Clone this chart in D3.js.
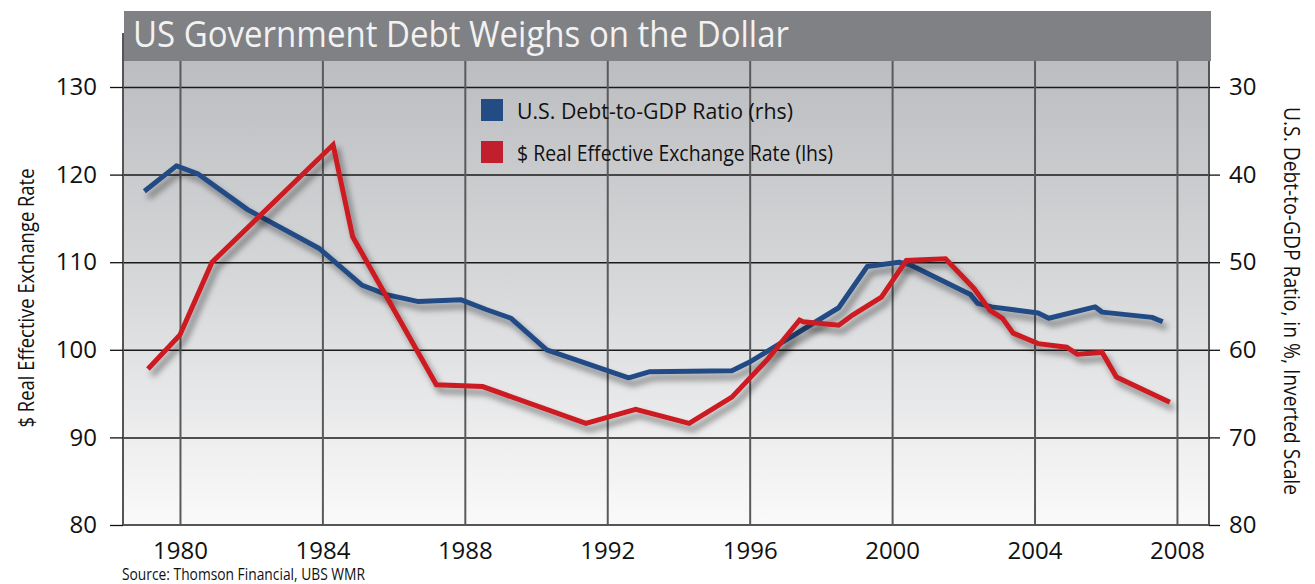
<!DOCTYPE html>
<html>
<head>
<meta charset="utf-8">
<script src="https://cdn.jsdelivr.net/npm/d3@7"></script>
<style>
  body { margin: 0; background: #fff; }
  svg { display: block; font-family: "Open Sans", "Noto Sans", sans-serif; }
</style>
</head>
<body>
<div id="chart"></div>
<script>
// values
var debtYears = [1979.0, 1979.9, 1980.5, 1981.9, 1983.9, 1985.1, 1985.8, 1986.7, 1987.9, 1988.6,
                 1989.3, 1990.3, 1992.6, 1993.2, 1995.5, 1996.0, 1998.5, 1999.3, 2000.2, 2000.5,
                 2002.2, 2002.4, 2002.8, 2004.1, 2004.4, 2005.7, 2005.9, 2007.3, 2007.6];
var debtRatio = [41.9, 39.0, 39.9, 44.0, 48.4, 52.6, 53.7, 54.5, 54.3, 55.4,
                 56.4, 60.0, 63.2, 62.5, 62.4, 61.4, 55.2, 50.5, 50.0, 50.3,
                 53.7, 54.7, 55.1, 55.8, 56.4, 55.1, 55.7, 56.3, 56.8];

var fxYears = [1979.1, 1980.0, 1980.9, 1984.3, 1984.85, 1987.2, 1988.5, 1991.4, 1992.8, 1994.3,
               1995.5, 1996.5, 1997.4, 1997.5, 1998.5, 1998.9, 1999.7, 2000.4, 2001.5, 2002.3,
               2002.75, 2003.1, 2003.4, 2004.1, 2004.9, 2005.2, 2005.9, 2006.3, 2007.8];
var fxRate = [97.8, 101.7, 110.0, 123.4, 112.9, 96.0, 95.8, 91.6, 93.2, 91.6,
              94.6, 98.9, 103.4, 103.2, 102.8, 104.0, 106.0, 110.2, 110.4, 107.0,
              104.5, 103.6, 101.9, 100.7, 100.3, 99.5, 99.7, 96.9, 94.0];

var yearTicks = [1980, 1984, 1988, 1992, 1996, 2000, 2004, 2008];
var leftTicks = [80, 90, 100, 110, 120, 130];
var rightTicks = [30, 40, 50, 60, 70, 80];

var seriesNames = ["U.S. Debt-to-GDP Ratio (rhs)", "$ Real Effective Exchange Rate (lhs)"];
var seriesColors = ["#234b85", "#cc1a24"];
var legendColors = ["#234b84", "#c11e2e"];

(function() {

  var stateMap = {
    width: 1315,
    height: 584,
    box: { left: 123, right: 1209, top: 61, bottom: 525, titleTop: 11 }
  },
  d3Map = {};

  var styleAxis = function(g) {
    g.select(".domain").remove();
    g.selectAll("line").attr("stroke", "#111").attr("stroke-width", 1.3);
    g.selectAll("text").attr("font-size", 24).attr("fill", "#111")
      .attr("font-family", "\"Open Sans\", \"Noto Sans\", sans-serif");
  };

  var initModule = function() {
    var b = stateMap.box;
    var svg = d3.select("#chart").append("svg")
      .attr("width", stateMap.width)
      .attr("height", stateMap.height);

    var defs = svg.append("defs");
    var grad = defs.append("linearGradient")
      .attr("id", "bg").attr("x1", 0).attr("y1", 0).attr("x2", 0).attr("y2", 1);
    grad.append("stop").attr("offset", "0%").attr("stop-color", "#bcbdc0");
    grad.append("stop").attr("offset", "50%").attr("stop-color", "#d8d9db");
    grad.append("stop").attr("offset", "100%").attr("stop-color", "#fafafa");

    defs.append("filter").attr("id", "shadow")
      .attr("x", "-5%").attr("y", "-10%").attr("width", "115%").attr("height", "130%")
      .append("feDropShadow")
      .attr("dx", 4).attr("dy", 6).attr("stdDeviation", 3)
      .attr("flood-color", "#000").attr("flood-opacity", 0.45);

    // scales
    d3Map.x = d3.scaleLinear().domain([1978.4, 2008.9]).range([b.left, b.right]);
    d3Map.yL = d3.scaleLinear().domain([80, 130]).range([b.bottom, 87]);
    d3Map.yR = d3.scaleLinear().domain([80, 30]).range([b.bottom, 87]);

    // title bar and plot background
    svg.append("rect")
      .attr("x", b.left + 1).attr("y", b.titleTop)
      .attr("width", b.right - b.left + 1).attr("height", b.top - b.titleTop)
      .attr("fill", "#808184");
    svg.append("text")
      .attr("x", 133).attr("y", 47)
      .attr("font-size", 37)
      .attr("fill", "#f2f2f2")
      .attr("textLength", 656).attr("lengthAdjust", "spacingAndGlyphs")
      .text("US Government Debt Weighs on the Dollar");

    svg.append("rect")
      .attr("x", b.left).attr("y", b.top)
      .attr("width", b.right - b.left).attr("height", b.bottom - b.top)
      .attr("fill", "url(#bg)");

    // grid
    var gGrid = svg.append("g").attr("class", "grid");
    gGrid.append("g")
      .attr("transform", "translate(" + b.left + ",0)")
      .call(d3.axisLeft(d3Map.yL).tickValues(leftTicks.slice(1)).tickSize(-(b.right - b.left)).tickFormat(""))
      .call(function(g) {
        g.select(".domain").remove();
        g.selectAll("line").attr("stroke", "#1a1a1a").attr("stroke-width", 1.5);
      });
    gGrid.append("g")
      .attr("transform", "translate(0," + b.bottom + ")")
      .call(d3.axisBottom(d3Map.x).tickValues(yearTicks).tickSize(-(b.bottom - b.top)).tickFormat(""))
      .call(function(g) {
        g.select(".domain").remove();
        g.selectAll("line").attr("stroke", "#5a5a5a").attr("stroke-width", 2);
      });

    // frame
    svg.append("line")
      .attr("x1", b.left).attr("x2", b.left).attr("y1", 33).attr("y2", b.bottom)
      .attr("stroke", "#555").attr("stroke-width", 2);
    svg.append("line")
      .attr("x1", b.right).attr("x2", b.right).attr("y1", b.top).attr("y2", b.bottom)
      .attr("stroke", "#555").attr("stroke-width", 2);
    svg.append("line")
      .attr("x1", b.left).attr("x2", b.right).attr("y1", b.bottom).attr("y2", b.bottom)
      .attr("stroke", "#555").attr("stroke-width", 2);

    // axes
    svg.append("g")
      .attr("transform", "translate(" + b.left + ",0)")
      .call(d3.axisLeft(d3Map.yL).tickValues(leftTicks).tickSize(13).tickPadding(13))
      .call(styleAxis);
    svg.append("g")
      .attr("transform", "translate(" + b.right + ",0)")
      .call(d3.axisRight(d3Map.yR).tickValues(rightTicks).tickSize(11).tickPadding(9))
      .call(styleAxis);
    svg.append("g")
      .attr("transform", "translate(0," + b.bottom + ")")
      .call(d3.axisBottom(d3Map.x).tickValues(yearTicks).tickSize(0).tickPadding(17).tickFormat(d3.format("d")))
      .call(styleAxis);

    // axis titles
    svg.append("text")
      .attr("transform", "translate(34,298) rotate(-90)")
      .attr("text-anchor", "middle")
      .attr("font-size", 22).attr("fill", "#111")
      .attr("textLength", 259).attr("lengthAdjust", "spacingAndGlyphs")
      .text("$ Real Effective Exchange Rate");
    svg.append("text")
      .attr("transform", "translate(1284,301) rotate(90)")
      .attr("text-anchor", "middle")
      .attr("font-size", 22).attr("fill", "#111")
      .attr("textLength", 388).attr("lengthAdjust", "spacingAndGlyphs")
      .text("U.S. Debt-to-GDP Ratio, in %, Inverted Scale");

    // lines
    var debtData = debtYears.map(function(yr, i) { return [yr, debtRatio[i]]; });
    var fxData = fxYears.map(function(yr, i) { return [yr, fxRate[i]]; });

    var debtLine = d3.line()
      .x(function(d) { return d3Map.x(d[0]); })
      .y(function(d) { return d3Map.yR(d[1]); });
    var fxLine = d3.line()
      .x(function(d) { return d3Map.x(d[0]); })
      .y(function(d) { return d3Map.yL(d[1]); });

    svg.append("path")
      .datum(debtData)
      .attr("d", debtLine)
      .attr("fill", "none")
      .attr("stroke", seriesColors[0])
      .attr("stroke-width", 5)
      .attr("stroke-linejoin", "round")
      .attr("filter", "url(#shadow)");
    svg.append("path")
      .datum(fxData)
      .attr("d", fxLine)
      .attr("fill", "none")
      .attr("stroke", seriesColors[1])
      .attr("stroke-width", 5)
      .attr("stroke-linejoin", "miter")
      .attr("filter", "url(#shadow)");

    // legend
    var legend = svg.append("g").attr("transform", "translate(481,99)");
    var items = legend.selectAll("g")
      .data(seriesNames)
      .enter().append("g")
      .attr("transform", function(d, i) { return "translate(0," + i * 42 + ")"; });
    items.append("rect")
      .attr("width", 22).attr("height", 22)
      .attr("fill", function(d, i) { return legendColors[i]; });
    items.append("text")
      .attr("x", 36).attr("y", 20)
      .attr("font-size", 21).attr("fill", "#111")
      .attr("textLength", function(d, i) { return i ? 316 : 276; })
      .attr("lengthAdjust", "spacingAndGlyphs")
      .text(function(d) { return d; });

    // source
    svg.append("text")
      .attr("x", 122).attr("y", 580)
      .attr("font-size", 17).attr("fill", "#111")
      .attr("textLength", 243).attr("lengthAdjust", "spacingAndGlyphs")
      .text("Source: Thomson Financial, UBS WMR");
  };

  initModule();

}());
</script>
</body>
</html>
